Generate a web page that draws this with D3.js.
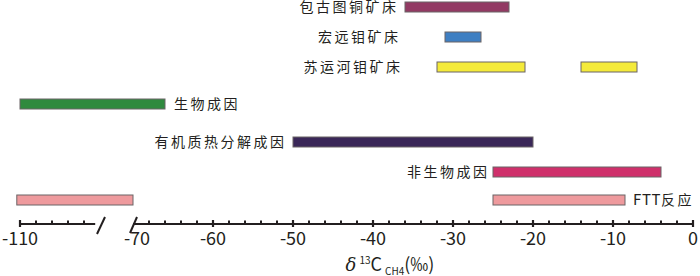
<!doctype html>
<html>
  <head>
    <meta charset="utf-8">
    <script src="https://cdn.jsdelivr.net/npm/d3@7/dist/d3.min.js"></script>
    <style>
      body { margin: 0; background: #fff; }
      text { font-family: "Noto Sans CJK SC", "Noto Sans", sans-serif; fill: #231f20; }
    </style>
  </head>
  <body>
    <svg id="chart" width="700" height="276"></svg>
    <script>
      // categories, top to bottom
      var categories = ["包古图铜矿床", "宏远钼矿床", "苏运河钼矿床", "生物成因", "有机质热分解成因", "非生物成因", "FTT反应"];
      // delta13C CH4 ranges (‰), one or two segments per row
      var rangeFrom = [[-36], [-31], [-32, -14], [-110], [-50], [-25], [-110.4, -25]];
      var rangeTo   = [[-23], [-26.5], [-21, -7], [-66], [-20], [-4], [-70, -8.5]];
      var barColors = ["#923a63", "#3f7fc2", "#f4ea3a", "#2f8a3e", "#3a2758", "#cf306b", "#ee9a9d"];
      // axis ticks
      var majorTicks = [-110, -70, -60, -50, -40, -30, -20, -10, 0];
      var minorTicks = [-108, -106, -104, -102].concat(d3.range(-68, 0, 2).filter(function(d) { return d % 10 != 0 }));

      var svg = d3.select("#chart");

      // broken axis: -110..-100 then a jump to -70..0
      var x = d3.scaleLinear()
        .domain([-110, -100, -70, 0])
        .range([20, 100, 133, 693]);

      var y = d3.scaleOrdinal()
        .domain(categories)
        .range([7, 37, 67, 104, 142, 172, 200]);

      // label placement: side of the bar and gap in px
      var labelSide = ["left", "left", "left", "right", "left", "left", "right"];
      var labelGap  = [9, 47, 37, 9, 9, 6, 8];

      var barH = 10;

      // bars
      var segs = [];
      categories.forEach(function(c, i) {
        rangeFrom[i].forEach(function(v, j) {
          segs.push({cat: c, lo: v, hi: rangeTo[i][j], color: barColors[i]});
        });
      });

      svg.append("g")
        .selectAll("rect")
        .data(segs)
        .enter()
        .append("rect")
          .attr("x", function(d) { return x(d.lo) })
          .attr("y", function(d) { return y(d.cat) - barH / 2 })
          .attr("width", function(d) { return x(d.hi) - x(d.lo) })
          .attr("height", barH)
          .attr("fill", function(d) { return d.color })
          .attr("stroke", "#6b6466")
          .attr("stroke-width", 1);

      // labels; latin runs keep normal spacing, CJK runs are spread
      var labels = svg.append("g")
        .selectAll("text")
        .data(categories)
        .enter()
        .append("text")
          .attr("x", function(d, i) {
            if (labelSide[i] == "left") return x(d3.min(rangeFrom[i])) - labelGap[i] + 2.5;
            return x(d3.max(rangeTo[i])) + labelGap[i];
          })
          .attr("y", function(d) { return y(d) })
          .attr("dy", "0.38em")
          .attr("text-anchor", function(d, i) { return labelSide[i] == "left" ? "end" : "start" })
          .style("font-size", "14px");

      labels.each(function(d) {
        var t = d3.select(this);
        (d.match(/[A-Za-z0-9]+|[^A-Za-z0-9]+/g) || []).forEach(function(run) {
          t.append("tspan")
            .style("letter-spacing", /[A-Za-z]/.test(run) ? "0.6px" : "2.5px")
            .style("font-size", /[A-Za-z]/.test(run) ? "15px" : null)
            .text(run);
        });
      });

      // axis
      var axisY = 224;
      var ax = svg.append("g").attr("stroke", "#231f20");

      ax.append("line")
        .attr("x1", x(-110)).attr("x2", x(-100.6))
        .attr("y1", axisY).attr("y2", axisY)
        .attr("stroke-width", 2);
      ax.append("line")
        .attr("x1", x(-70)).attr("x2", x(0))
        .attr("y1", axisY).attr("y2", axisY)
        .attr("stroke-width", 2);

      // break marks
      ax.append("line")
        .attr("x1", x(-100) + 5).attr("x2", x(-100) - 3)
        .attr("y1", axisY - 7).attr("y2", axisY + 10)
        .attr("stroke-width", 2);
      ax.append("line")
        .attr("x1", x(-70) + 4).attr("x2", x(-70) - 3)
        .attr("y1", axisY - 7).attr("y2", axisY + 9)
        .attr("stroke-width", 2);

      ax.selectAll(".major")
        .data(majorTicks.filter(function(d) { return d != -70 }))
        .enter()
        .append("line")
          .attr("x1", function(d) { return x(d) })
          .attr("x2", function(d) { return x(d) })
          .attr("y1", axisY - 4)
          .attr("y2", axisY + 3)
          .attr("stroke-width", 2.2);

      ax.selectAll(".minor")
        .data(minorTicks)
        .enter()
        .append("line")
          .attr("x1", function(d) { return x(d) })
          .attr("x2", function(d) { return x(d) })
          .attr("y1", axisY - 3.5)
          .attr("y2", axisY)
          .attr("stroke-width", 2);

      svg.append("g")
        .selectAll("text")
        .data(majorTicks)
        .enter()
        .append("text")
          .attr("x", function(d) { return x(d) + (d == -70 ? 4 : 0) })
          .attr("y", 245)
          .attr("text-anchor", "middle")
          .style("font-size", "18px")
          .text(function(d) { return d });

      // axis title
      var title = svg.append("text")
        .attr("x", 390)
        .attr("y", 271)
        .attr("text-anchor", "middle")
        .style("font-size", "18px");
      title.append("tspan").style("font-style", "italic").style("font-family", "'DejaVu Serif', serif").text("δ");
      title.append("tspan").attr("dx", 3).attr("dy", -7).style("font-size", "10px").text("13");
      title.append("tspan").attr("dy", 7).text("C");
      title.append("tspan").attr("dx", 3).attr("dy", 4).style("font-size", "10px").text("CH4");
      title.append("tspan").attr("dy", -4).text("(‰)");
    </script>
  </body>
</html>
